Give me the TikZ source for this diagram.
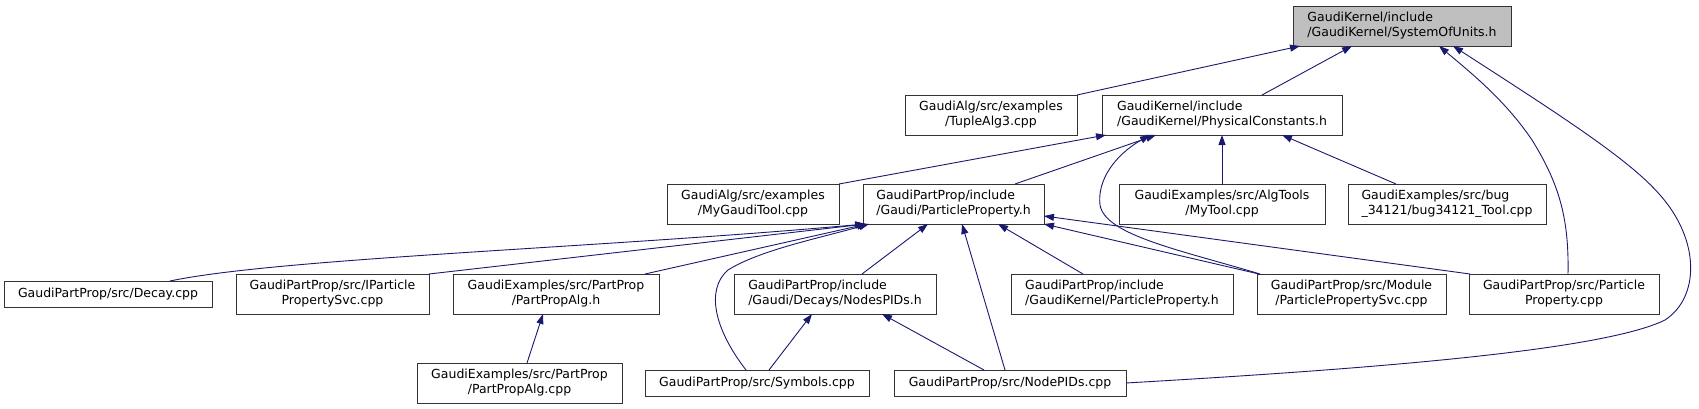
\documentclass[tikz,border=0pt]{standalone}
\usepackage{fontspec}
\setmainfont{DejaVu Sans}
\usetikzlibrary{arrows.meta}
\definecolor{edgeblue}{RGB}{25,25,112}
\definecolor{rootfill}{RGB}{191,191,191}
\begin{document}
\begin{tikzpicture}[x=1pt,y=-1pt,
  box/.style={draw=black!80, line width=0.9pt, fill=white, inner sep=0pt, outer sep=0pt,
    font=\fontsize{12.5}{15}\selectfont, minimum height=40pt},
  onebox/.style={box, minimum height=26pt},
  rootbox/.style={box, fill=rootfill},
  edge/.style={draw=edgeblue, line width=0.9pt, -{Triangle[length=10pt,width=7pt]}}]
\useasboundingbox (0,0) rectangle (1699,409);
% row 1
\node[rootbox, minimum width=218pt, align=left] (sou) at (1402,26) {GaudiKernel/include\\/GaudiKernel/SystemOfUnits.h};
% row 2
\node[box, minimum width=172pt, align=center] (tuple) at (991,115) {GaudiAlg/src/examples\\/TupleAlg3.cpp};
\node[box, minimum width=240pt, align=left] (phys) at (1222,115) {GaudiKernel/include\\/GaudiKernel/PhysicalConstants.h};
% row 3
\node[box, minimum width=172pt, align=center] (mygaudi) at (753,204) {GaudiAlg/src/examples\\/MyGaudiTool.cpp};
\node[box, minimum width=181pt, align=left] (pph) at (953.5,204) {GaudiPartProp/include\\/Gaudi/ParticleProperty.h};
\node[box, minimum width=206pt, align=center] (mytool) at (1222,204) {GaudiExamples/src/AlgTools\\/MyTool.cpp};
\node[box, minimum width=198pt, align=left] (bug) at (1447,204) {GaudiExamples/src/bug\\\_34121/bug34121\_Tool.cpp};
% row 4
\node[onebox, minimum width=208pt] (decay) at (108,294) {GaudiPartProp/src/Decay.cpp};
\node[box, minimum width=193pt, align=center] (ipart) at (332.5,294) {GaudiPartProp/src/IParticle\\PropertySvc.cpp};
\node[box, minimum width=206pt, align=center] (ppalgh) at (556,294) {GaudiExamples/src/PartProp\\/PartPropAlg.h};
\node[box, minimum width=202pt, align=left] (nodesh) at (835,294) {GaudiPartProp/include\\/Gaudi/Decays/NodesPIDs.h};
\node[box, minimum width=222pt, align=left] (gkpph) at (1122,294) {GaudiPartProp/include\\/GaudiKernel/ParticleProperty.h};
\node[box, minimum width=189pt, align=center] (module) at (1351.5,294) {GaudiPartProp/src/Module\\/ParticlePropertySvc.cpp};
\node[box, minimum width=190pt, align=center] (ppcpp) at (1564,294) {GaudiPartProp/src/Particle\\Property.cpp};
% row 5
\node[box, minimum width=205pt, align=center] (ppalgcpp) at (519.5,383) {GaudiExamples/src/PartProp\\/PartPropAlg.cpp};
\node[onebox, minimum width=224pt] (symbols) at (757,383) {GaudiPartProp/src/Symbols.cpp};
\node[onebox, minimum width=232pt] (nodepids) at (1010,383) {GaudiPartProp/src/NodePIDs.cpp};
% edges to SystemOfUnits.h
\draw[edge] (tuple.north east) -- ([xshift=7pt]sou.south west);
\draw[edge] ([xshift=160pt]phys.north west) -- ([xshift=59pt]sou.south west);
\draw[edge] ([xshift=4pt]ppcpp.north) .. controls (1569,220) and (1560,185) .. (1532,140)
  .. controls (1505,100) and (1470,72) .. ([xshift=146pt]sou.south west);
\draw[edge] (nodepids.east) .. controls (1350,370) and (1600,352) .. (1665,320)
  .. controls (1700,297) and (1700,240) .. (1660,195)
  .. controls (1630,160) and (1560,115) .. ([xshift=160pt]sou.south west);
% edges to PhysicalConstants.h
\draw[edge] (mygaudi.north east) -- ([xshift=4pt]phys.south west);
\draw[edge] ([xshift=152pt]pph.north west) -- ([xshift=54pt]phys.south west);
\draw[edge] ([xshift=3pt]module.north west) .. controls (1180,250) and (1105,235) .. (1100,205)
  .. controls (1097,180) and (1115,155) .. ([xshift=48pt]phys.south west);
\draw[edge] (mytool.north) -- (phys.south);
\draw[edge] ([xshift=48pt]bug.north west) -- ([xshift=-60pt]phys.south east);
% edges to Gaudi/ParticleProperty.h
\draw[edge] ([xshift=166pt]decay.north west) .. controls (280,258) and (600,248) .. ([xshift=2pt]pph.south west);
\draw[edge] (ipart.north east) -- ([xshift=3pt]pph.south west);
\draw[edge] ([xshift=192pt]ppalgh.north west) -- ([xshift=4pt]pph.south west);
\draw[edge] ([xshift=101pt]symbols.north west) .. controls (715,330) and (705,290) .. (728,270)
  .. controls (760,250) and (820,238) .. ([xshift=6pt]pph.south west);
\draw[edge] ([xshift=128pt]nodesh.north west) -- ([xshift=65pt]pph.south west);
\draw[edge] ([xshift=111pt]nodepids.north west) -- ([xshift=99pt]pph.south west);
\draw[edge] ([xshift=72pt]gkpph.north west) -- ([xshift=135pt]pph.south west);
\draw[edge] ([xshift=2pt]module.north west) -- (pph.south east);
\draw[edge] ([xshift=1pt]ppcpp.north west) -- ([yshift=8pt]pph.south east);
% other edges
\draw[edge] ([xshift=110pt]ppalgcpp.north west) -- ([xshift=90pt]ppalgh.south west);
\draw[edge] ([xshift=124pt]symbols.north west) -- ([xshift=78pt]nodesh.south west);
\draw[edge] ([xshift=90pt]nodepids.north west) -- ([xshift=148pt]nodesh.south west);
\end{tikzpicture}
\end{document}
